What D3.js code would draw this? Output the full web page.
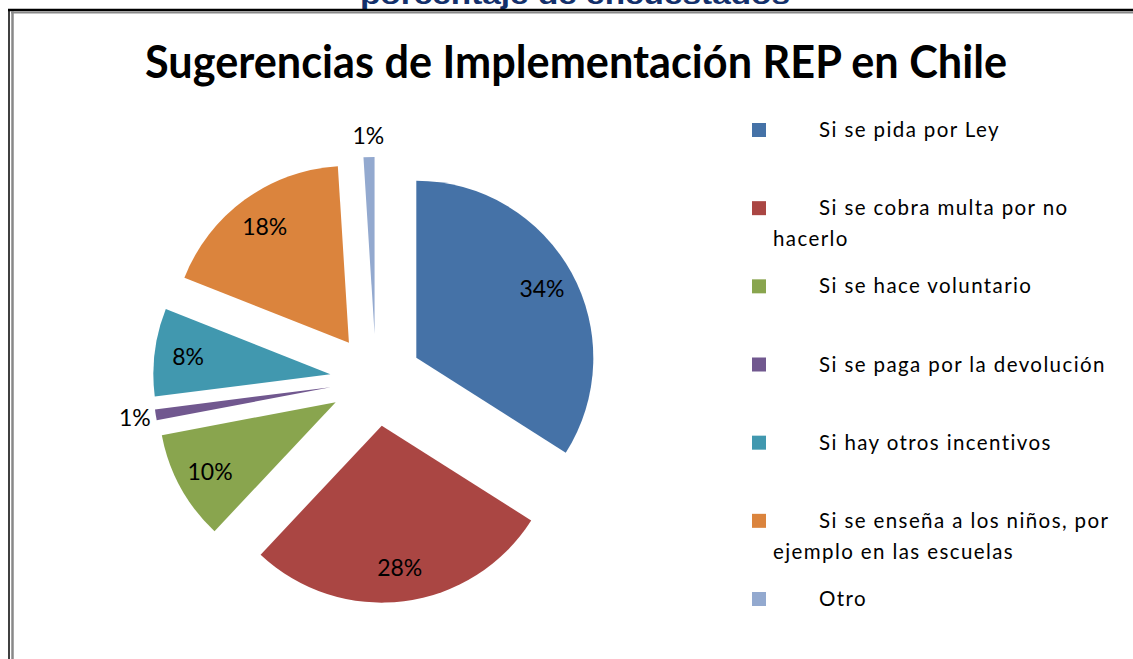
<!DOCTYPE html>
<html>
<head>
<meta charset="utf-8">
<script src="https://cdn.jsdelivr.net/npm/d3@7"></script>
<style>
  html, body { margin: 0; padding: 0; background: #ffffff; }
  svg { display: block; }
</style>
</head>
<body>
<svg id="chart" width="1133" height="659"></svg>
<script>
// ---- data ----
const categories = [
  "Si se pida por Ley",
  "Si se cobra multa por no hacerlo",
  "Si se hace voluntario",
  "Si se paga por la devolución",
  "Si hay otros incentivos",
  "Si se enseña a los niños, por ejemplo en las escuelas",
  "Otro"
];
const values = [34, 28, 10, 1, 8, 18, 1];
const valueLabels = ["34%", "28%", "10%", "1%", "8%", "18%", "1%"];
const legendLines = [
  ["Si se pida por Ley"],
  ["Si se cobra multa por no", "hacerlo"],
  ["Si se hace voluntario"],
  ["Si se paga por la devolución"],
  ["Si hay otros incentivos"],
  ["Si se enseña a los niños, por", "ejemplo en las escuelas"],
  ["Otro"]
];
const titleText = "Sugerencias de Implementación REP en Chile";
const topText = "porcentaje de encuestados";

// ---- styles / layout ----
const colors = ["#4572A7", "#AA4643", "#89A54E", "#71588F", "#4198AF", "#DB843D", "#93A9CF"];
const W = 1133, H = 659;
const cx = 376, cy = 380, R = 177, explode = 46;
const font = "Lato, 'Open Sans', sans-serif";

const svg = d3.select("#chart");
svg.append("rect").attr("width", W).attr("height", H).attr("fill", "#fff");

// cut-off heading above frame (cut at the top edge, as in the reference)
svg.append("text")
  .attr("x", 575).attr("y", 4)
  .attr("text-anchor", "middle")
  .attr("font-family", "'Liberation Sans', Arial, sans-serif")
  .attr("font-weight", "bold")
  .attr("font-size", 26)
  .attr("textLength", 430)
  .attr("lengthAdjust", "spacingAndGlyphs")
  .attr("fill", "#13306b")
  .text(topText);

// frame lines
svg.append("line").attr("x1", 8).attr("x2", W).attr("y1", 10).attr("y2", 10)
  .attr("stroke", "#000").attr("stroke-width", 2.5);
svg.append("line").attr("x1", 9).attr("x2", 9).attr("y1", 9).attr("y2", H)
  .attr("stroke", "#000").attr("stroke-width", 1.5);
svg.append("line").attr("x1", 11).attr("x2", W).attr("y1", 12.5).attr("y2", 12.5)
  .attr("stroke", "#888").attr("stroke-width", 2);
svg.append("line").attr("x1", 12.5).attr("x2", 12.5).attr("y1", 11).attr("y2", H)
  .attr("stroke", "#888").attr("stroke-width", 2.5);

// title
svg.append("text")
  .attr("x", 576).attr("y", 78)
  .attr("text-anchor", "middle")
  .attr("font-family", font)
  .attr("font-weight", "bold")
  .attr("font-size", 46)
  .attr("textLength", 862)
  .attr("lengthAdjust", "spacingAndGlyphs")
  .attr("fill", "#000")
  .text(titleText);

// pie
const pie = d3.pie().sort(null).value(d => d).startAngle(0).endAngle(2 * Math.PI);
const arcs = pie(values);
const arcGen = d3.arc().innerRadius(0).outerRadius(R);

const g = svg.append("g").attr("transform", `translate(${cx},${cy})`);
const slices = g.selectAll("g.slice").data(arcs).enter().append("g")
  .attr("class", "slice")
  .attr("transform", d => {
    const m = (d.startAngle + d.endAngle) / 2;
    return `translate(${Math.sin(m) * explode},${-Math.cos(m) * explode})`;
  });
slices.append("path")
  .attr("d", arcGen)
  .attr("fill", (d, i) => colors[i]);

slices.append("text")
  .attr("transform", d => {
    const m = (d.startAngle + d.endAngle) / 2;
    const rr = d.data < 2 ? R * 1.12 : R * 0.81;
    return `translate(${Math.sin(m) * rr},${-Math.cos(m) * rr})`;
  })
  .attr("text-anchor", "middle")
  .attr("dy", "0.36em")
  .attr("font-family", font)
  .attr("font-weight", 400)
  .attr("font-size", 23)
  .attr("fill", "#000")
  .text((d, i) => valueLabels[i]);

// legend
const legendY = d3.scalePoint().domain(d3.range(categories.length)).range([130, 599]);
const lg = svg.append("g");
const items = lg.selectAll("g.item").data(categories).enter().append("g")
  .attr("class", "item")
  .attr("transform", (d, i) => `translate(752,${legendY(i)})`);
items.append("rect")
  .attr("x", 0).attr("y", -7).attr("width", 14).attr("height", 14)
  .attr("fill", (d, i) => colors[i]);
items.each(function(d, i) {
  const sel = d3.select(this);
  legendLines[i].forEach((ln, j) => {
    sel.append("text")
      .attr("x", j === 0 ? 67 : 21)
      .attr("y", 7 + j * 31)
      .attr("font-family", font)
      .attr("font-weight", 400)
      .attr("font-size", 20.5)
      .attr("letter-spacing", 1.4)
      .attr("fill", "#000")
      .text(ln);
  });
});
</script>
</body>
</html>
